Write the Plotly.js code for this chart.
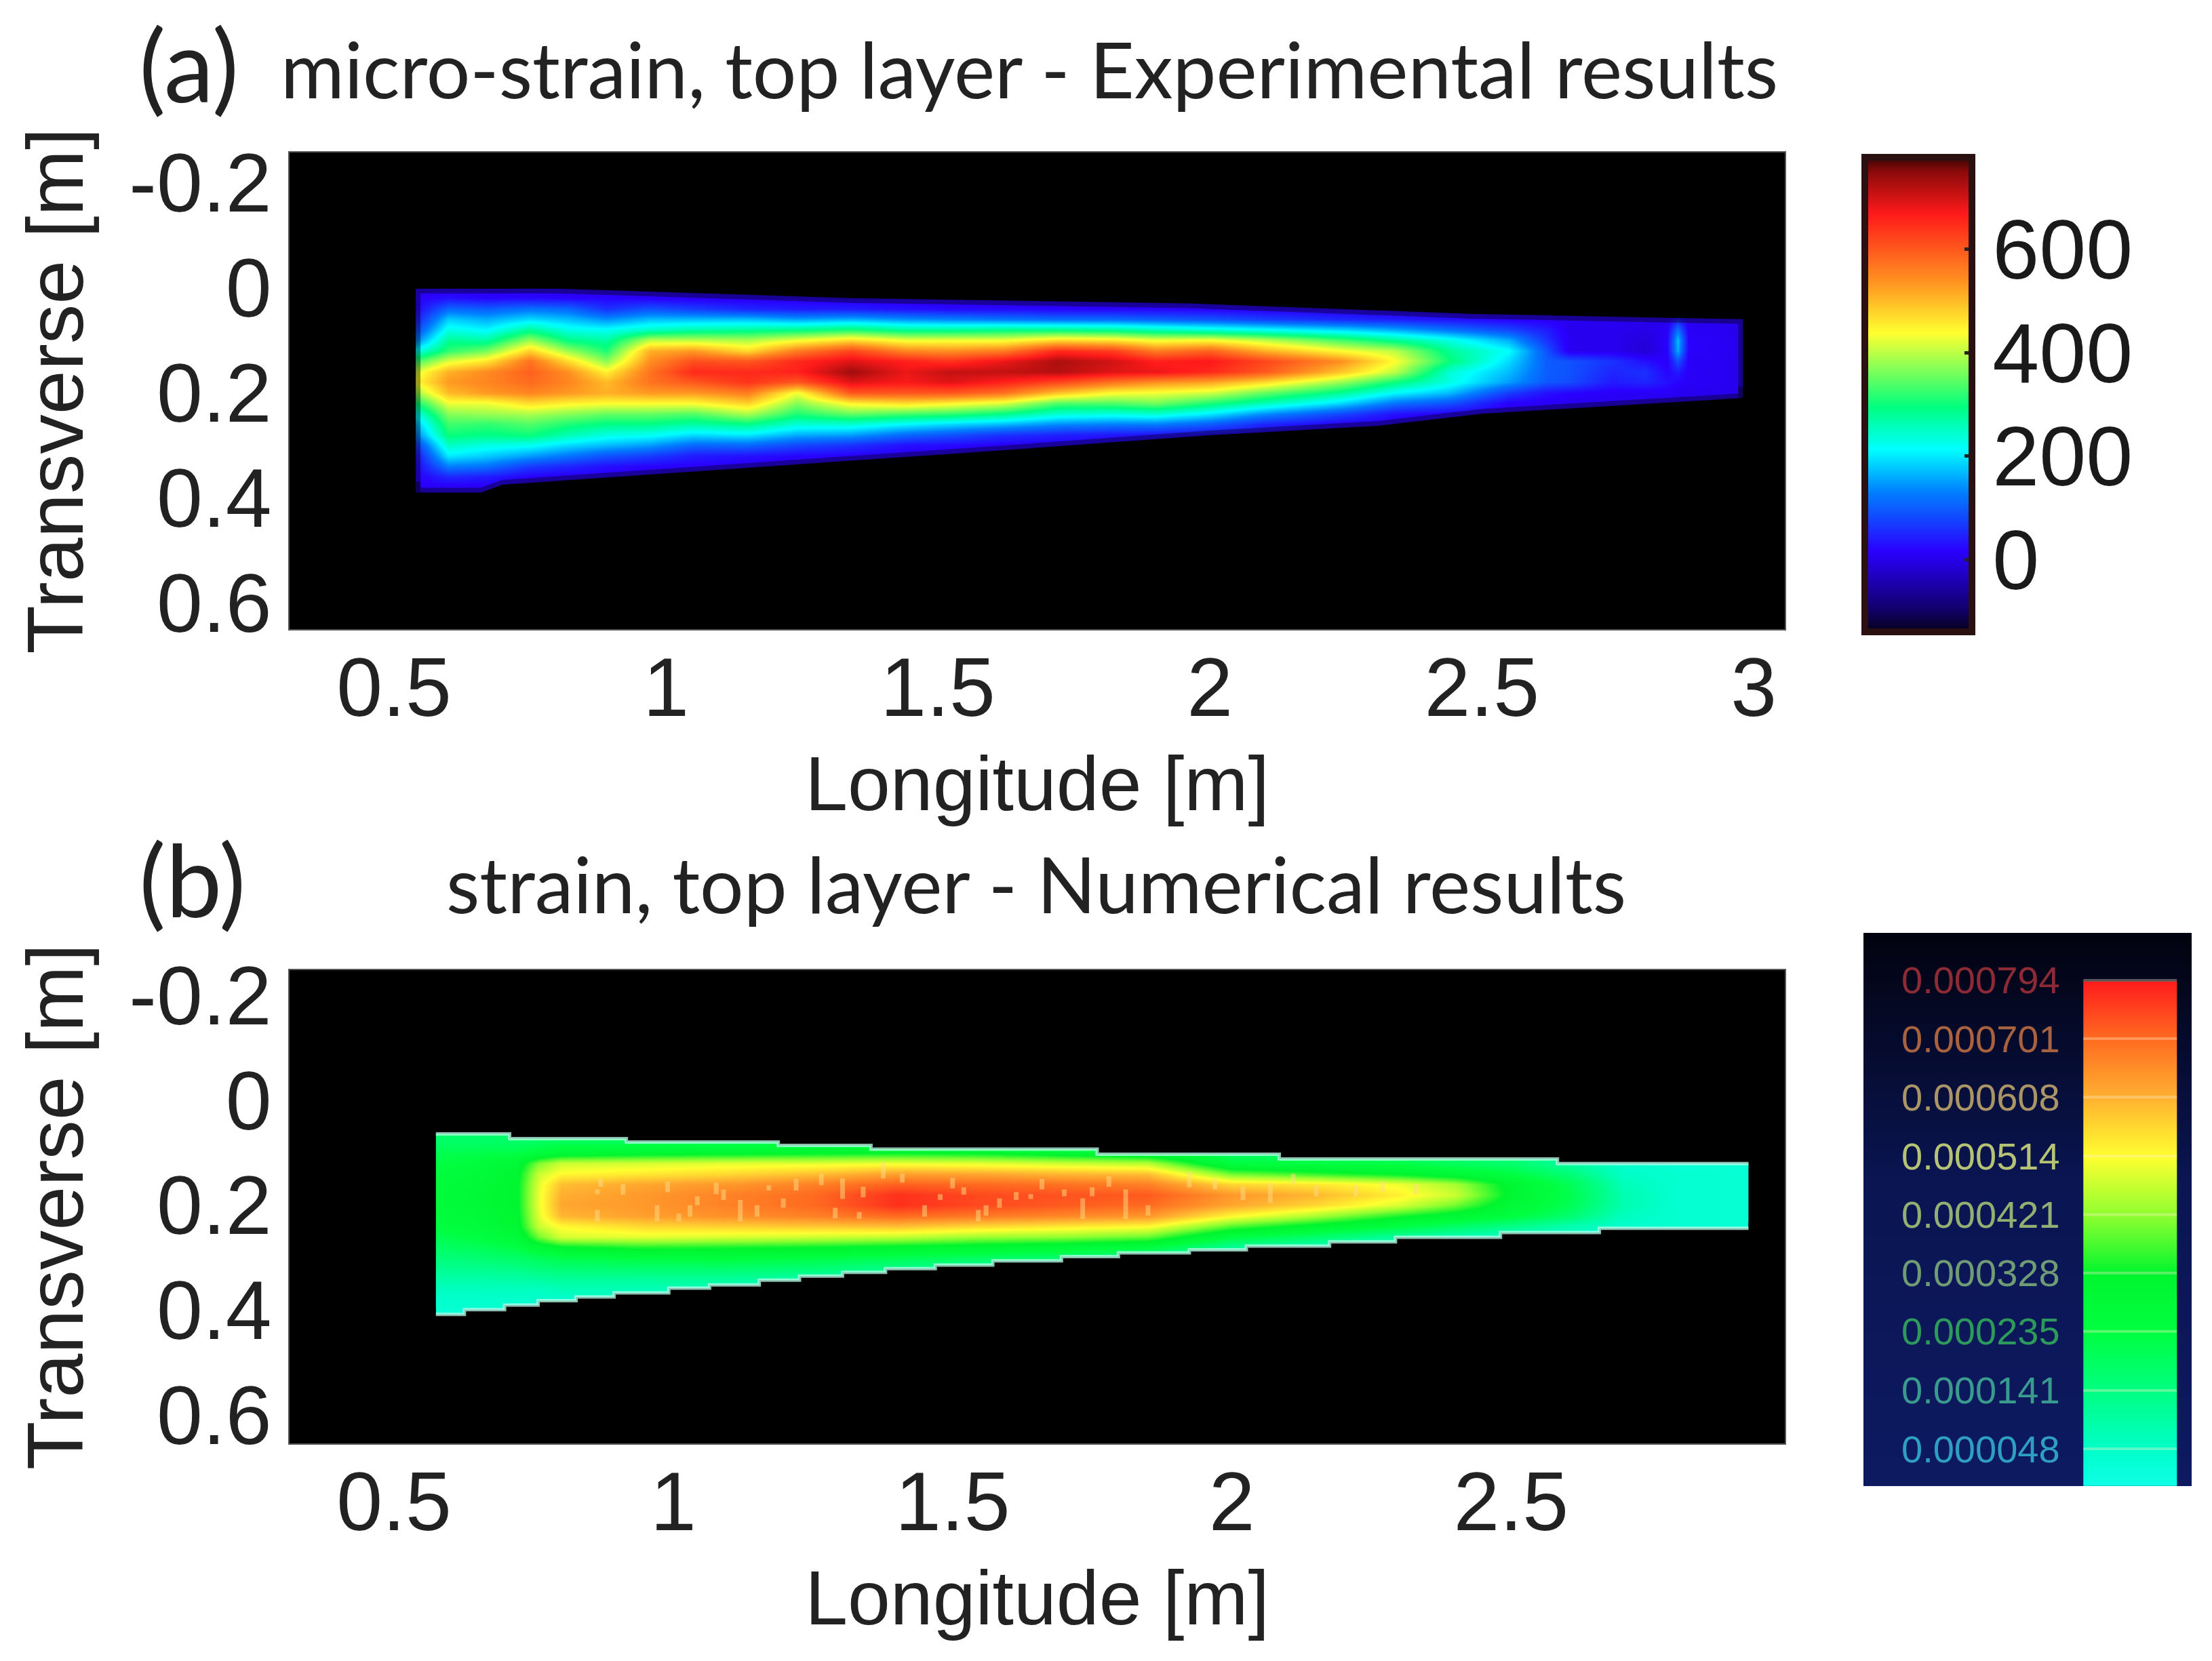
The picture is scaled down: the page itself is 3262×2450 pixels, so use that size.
<!DOCTYPE html>
<html>
<head>
<meta charset="utf-8">
<script src="https://cdn.plot.ly/plotly-3.0.1.min.js"></script>
<style>html,body{margin:0;padding:0;background:#fff}#chart{width:3262px;height:2450px}</style>
</head>
<body>
<div id="chart"></div>
<script>
// ---------- Panel (a): experimental micro-strain, typed per longitude column ----------
const transverseA = [0,.02,.04,.06,.08,.10,.12,.14,.16,.18,.20,.22,.24,.26,.28,.30,.32,.34,.36,.38,.40];
const longitudeA = [.54,.60,.67,.75,.82,.89,.97,1.05,1.15,1.24,1.34,1.44,1.52,1.62,1.72,1.82,1.90,2.00,2.10,2.24,2.34,2.44,2.55,2.62,2.66,2.74,2.80,2.84,2.86,2.88,2.97];
const strainColumnsA = [
[10,15,20,40,80,130,220,330,420,440,380,300,220,170,130,70,30,20,15,10,10],
[10,30,110,180,230,280,320,420,510,530,500,430,370,330,300,250,200,130,50,10,10],
[10,20,100,160,210,270,360,460,545,550,530,430,380,320,290,230,180,120,40,10,10],
[5,25,120,190,280,380,480,570,590,580,550,470,390,340,300,220,150,70,15,10,10],
[5,20,110,170,230,290,380,470,540,550,530,450,370,310,260,190,120,50,10,10,10],
[5,20,60,140,220,270,310,370,450,500,510,440,350,290,230,170,90,30,10,10,10],
[5,15,90,170,250,400,510,540,570,570,530,440,350,290,220,150,70,20,5,5,5],
[5,10,70,170,270,400,530,610,650,600,530,440,340,270,190,110,40,15,5,5,5],
[5,8,50,170,280,390,470,600,650,640,560,480,390,290,200,110,30,12,5,5,5],
[5,8,40,150,290,430,560,650,660,600,430,370,310,240,160,80,20,10,5,5,5],
[5,5,40,160,310,470,620,690,735,690,600,450,350,240,150,60,15,5,5,5,5],
[5,5,30,140,280,430,550,660,680,670,600,470,330,210,110,30,10,5,5,5,5],
[5,5,25,130,280,430,540,640,710,690,600,450,320,190,90,25,8,5,5,5,5],
[5,5,25,120,290,430,560,680,710,660,570,420,290,170,60,15,5,5,5,5,5],
[5,5,20,110,290,470,650,725,720,620,490,340,240,140,45,12,5,5,5,5,5],
[5,5,20,110,280,460,630,700,690,570,440,340,230,130,35,10,5,5,5,5,5],
[5,5,20,100,260,430,560,660,680,540,430,360,240,130,30,10,5,5,5,5,5],
[5,5,15,90,240,440,590,670,650,520,410,310,200,100,20,8,5,5,5,5,5],
[5,5,12,70,220,400,510,620,600,470,350,260,140,50,12,5,5,5,5,5,5],
[5,5,10,50,190,330,440,540,490,380,280,190,80,15,5,5,5,5,5,5,5],
[5,5,8,40,160,280,400,440,400,300,210,120,30,8,5,5,5,5,5,5,5],
[5,5,5,30,120,230,280,300,240,230,170,90,15,5,5,5,5,5,5,5,5],
[5,5,5,15,80,160,215,190,170,150,70,15,5,5,5,5,5,5,5,5,5],
[5,5,5,10,40,60,90,100,100,95,30,10,5,5,5,5,5,5,5,5,5],
[5,5,5,5,5,5,5,90,90,85,20,5,5,5,5,5,5,5,5,5,5],
[5,5,5,5,5,5,5,60,50,40,10,5,5,5,5,5,5,5,5,5,5],
[5,5,5,5,0,-10,-15,30,60,50,10,5,5,5,5,5,5,5,5,5,5],
[5,5,5,5,10,15,15,10,20,30,10,5,5,5,5,5,5,5,5,5,5],
[5,5,5,40,120,170,160,90,40,20,5,5,5,5,5,5,5,5,5,5,5],
[5,5,5,5,10,15,15,10,10,10,5,5,5,5,5,5,5,5,5,5,5],
[5,5,5,5,5,5,5,5,5,5,5,5,5,5,5,5,5,5,5,5,5]
];
const topEdgeLonA = [.54,.80,1.0,1.34,1.96,2.26,2.48,2.82,2.98];
const topEdgeTransA = [.002,.002,.01,.02,.03,.042,.05,.057,.06];
const bottomEdgeLonA = [.54,.66,.70,1.03,1.34,1.64,2.0,2.31,2.5,2.88,2.98];
const bottomEdgeTransA = [.39,.39,.375,.352,.333,.308,.281,.263,.24,.218,.21];

// ---------- Panel (b): numerical strain (x 1e-6), typed per longitude column ----------
const transverseB = [.06,.08,.10,.12,.14,.16,.18,.20,.22,.24,.26,.28,.30,.32,.34,.36,.38,.40,.42];
const longitudeB = [.57,.65,.72,.76,.80,.95,1.10,1.25,1.40,1.55,1.70,1.85,2.00,2.15,2.30,2.40,2.50,2.60,2.70,2.80,2.93];
const strainColumnsB = [
[170,180,210,230,250,260,260,260,250,240,210,180,150,120,90,60,40,25,20],
[170,180,220,250,270,280,285,285,275,260,235,200,165,125,90,60,40,25,20],
[170,180,225,290,310,320,320,320,315,305,270,230,180,135,95,60,40,25,20],
[170,190,250,410,470,490,500,500,490,470,400,280,200,150,100,60,40,25,20],
[170,200,280,470,520,590,610,620,600,520,480,320,220,160,110,70,40,25,20],
[170,200,300,480,540,620,640,640,630,560,490,350,240,170,110,70,40,25,20],
[170,200,310,490,560,640,670,670,650,570,480,340,250,170,110,60,40,25,20],
[170,210,320,490,590,670,700,700,670,580,470,330,230,160,90,50,40,25,20],
[170,210,330,500,630,710,770,770,700,590,460,310,210,130,70,40,40,25,20],
[170,180,320,490,620,700,740,740,680,560,430,290,190,100,50,40,40,25,20],
[170,170,290,470,600,690,730,720,660,540,420,270,170,70,40,40,40,25,20],
[170,170,260,450,590,670,720,700,640,520,390,240,120,50,40,40,40,25,20],
[170,170,170,240,400,560,640,620,520,380,230,110,50,40,40,40,40,25,20],
[170,170,170,230,360,540,600,560,440,300,170,60,40,40,40,40,40,25,20],
[170,170,170,220,320,500,530,480,340,230,100,40,40,40,40,40,40,25,20],
[170,170,170,190,280,440,470,400,290,180,70,40,40,40,40,40,40,25,20],
[170,170,170,170,230,300,310,280,240,130,50,40,40,40,40,40,40,25,20],
[100,100,100,100,160,210,220,210,170,80,40,40,40,40,40,40,40,25,20],
[40,40,40,40,50,70,80,80,60,40,30,30,30,30,30,30,30,25,20],
[20,20,20,20,30,30,30,30,30,30,20,20,20,20,20,20,20,20,20],
[25,25,25,25,25,25,25,25,25,25,25,25,25,25,25,25,25,25,25]
];
const topEdgeLonB = [.575,.707,.707,.916,.916,1.188,1.188,1.354,1.354,1.759,1.759,2.085,2.085,2.583,2.583,2.925];
const topEdgeTransB = [.064,.064,.073,.073,.0795,.0795,.086,.086,.093,.093,.103,.103,.112,.112,.1205,.1205];
const bottomEdgeLonB = [.575,.626,.626,.698,.698,.758,.758,.826,.826,.894,.894,.992,.992,1.065,1.065,1.154,1.154,1.226,1.226,1.303,1.303,1.38,1.38,1.469,1.469,1.572,1.572,1.695,1.695,1.797,1.797,1.924,1.924,2.026,2.026,2.175,2.175,2.293,2.293,2.481,2.481,2.658,2.658,2.925];
const bottomEdgeTransB = [.408,.408,.399,.399,.3905,.3905,.382,.382,.375,.375,.367,.367,.358,.358,.352,.352,.343,.343,.335,.335,.328,.328,.321,.321,.314,.314,.306,.306,.298,.298,.291,.291,.285,.285,.278,.278,.27,.27,.261,.261,.252,.252,.244,.244];
// light speckle streaks visible in the hot core of panel (b)
const streakLon = [.864,1.043,1.12,1.303,1.376,1.265,1.52,1.584,1.7,1.75,1.81,1.733,.971,.864,1.01,1.333,1.546,1.41,1.197,1.171,1.077,1.478,1.614,1.64,1.924,2.069,2.151,2.222,.87,.91,.99,1.03,1.09,1.15,1.22,1.29,1.34,1.45,1.5,1.56,1.66,1.78,1.85,1.97,2.02,2.11,2.27,2.33];
const streakFrom = [.170,.183,.190,.149,.118,.14,.166,.187,.17,.166,.17,.187,.2,.209,.216,.213,.209,.14,.187,.162,.157,.179,.175,.179,.136,.157,.162,.162,.15,.16,.155,.2,.17,.2,.15,.205,.165,.2,.148,.2,.15,.145,.2,.15,.165,.14,.155,.16];
const streakTo   = [.179,.2,.231,.188,.149,.162,.18,.205,.183,.183,.226,.226,.231,.231,.231,.226,.231,.157,.205,.172,.179,.19,.19,.188,.166,.196,.183,.183,.165,.18,.175,.222,.19,.222,.172,.225,.185,.222,.168,.22,.17,.165,.22,.17,.19,.16,.175,.18];

// ---------- Scales and labels ----------
const jetStops = [[0,'#05001a'],[.05,'#12006e'],[.17,'#2a00ff'],[.295,'#0080ff'],[.384,'#00ffff'],[.473,'#00ff80'],[.63,'#ffff30'],[.74,'#ff9020'],[.88,'#ff1a1a'],[.97,'#8b0a0a'],[1,'#3a0505']];
const scaleLevels = [-12,48,141,235,328,421,514,608,701,786,790];
const scaleLabels = ['0.000048','0.000141','0.000235','0.000328','0.000421','0.000514','0.000608','0.000701','0.000794'];
const scaleLabelValues = [48,141,235,328,421,514,608,701,794];
const scaleLabelColors = ['#2f9fc0','#3a9a8e','#2d9a5c','#6f9c74','#93b072','#b6c274','#ab9466','#a8623f','#8c2a36'];
const rampStops = [[0,'#10ffe8'],[.074,'#00ffc8'],[.19,'#00ff80'],[.306,'#00ff40'],[.42,'#00f52e'],[.537,'#90ff30'],[.652,'#ffff30'],[.769,'#ffb030'],[.885,'#ff6a20'],[1,'#ff1c1c']];
const boxLevels = [-12,400,870];
const lonTicksA = [.5,1,1.5,2,2.5,3], lonLabelsA = ['0.5','1','1.5','2','2.5','3'];
const lonTicksB = [.5,1,1.5,2,2.5], lonLabelsB = ['0.5','1','1.5','2','2.5'];
const transTicks = [-.2,0,.2,.4,.6], transLabels = ['-0.2','0','0.2','0.4','0.6'];
const colorbarTicks = [0,200,400,600];

// ---------- Figure ----------
const W = 3262, H = 2450;
const px = v => v / W, py = v => 1 - v / H;
const far = 50, lap = .012;

function maskTraces(topX, topY, botX, botY, xa, ya, line) {
  const n = topX.length - 1, m = botX.length - 1;
  const base = {type:'scatter', mode:'lines', fill:'toself', fillcolor:'#000', xaxis:xa, yaxis:ya,
    line: line, hoverinfo:'skip', showlegend:false};
  return [
    Object.assign({}, base, {
      x:[botX[0]].concat(topX, [topX[n], far, far, -far, -far, botX[0]]),
      y:[botY[0]].concat(topY, [botY[m], botY[m], -far, -far, botY[0], botY[0]])}),
    Object.assign({}, base, {
      x:botX.concat([botX[m], far, far, -far, -far, botX[0], botX[0]]),
      y:botY.concat([botY[m]-lap, botY[m]-lap, far, far, botY[0]-lap, botY[0]-lap, botY[0]])})
  ];
}

const softEdge = {color:'rgba(0,0,0,0.38)', width:14};
const noEdge = {width:0};

const streakX = [], streakY = [];
streakLon.forEach((l,i)=>{streakX.push(l,l,null); streakY.push(streakFrom[i],streakTo[i],null);});
const tickLineX = [], tickLineY = [];
scaleLabelValues.forEach(v=>{tickLineX.push(.67,.955,null); tickLineY.push(v,v,null);});

const traces = [
  {type:'heatmap', x:longitudeA, y:transverseA, z:strainColumnsA, transpose:true, zsmooth:'best',
   zmin:-139, zmax:777, colorscale:jetStops, xaxis:'x', yaxis:'y', hoverongaps:false,
   colorbar:{x:px(2750), xanchor:'left', y:py(582), yanchor:'middle', lenmode:'pixels', len:700,
     thicknessmode:'pixels', thickness:158, outlinecolor:'#2a1010', outlinewidth:10,
     tickmode:'array', tickvals:colorbarTicks, ticktext:colorbarTicks.map(String),
     ticks:'inside', ticklen:16, tickwidth:5, tickcolor:'#222',
     tickfont:{family:'Liberation Sans, Arial, sans-serif', size:124, color:'#1a1a1a'}, bgcolor:'rgba(0,0,0,0)', borderwidth:0, xpad:0, ypad:0}},
  ...maskTraces(topEdgeLonA, topEdgeTransA, bottomEdgeLonA, bottomEdgeTransA, 'x', 'y', softEdge),

  {type:'heatmap', x:longitudeB, y:transverseB, z:strainColumnsB, transpose:true, zsmooth:'best',
   zmin:-12, zmax:794, colorscale:rampStops, showscale:false, xaxis:'x2', yaxis:'y2'},
  {type:'scatter', mode:'lines', x:streakX, y:streakY, xaxis:'x2', yaxis:'y2', hoverinfo:'skip', showlegend:false,
   line:{color:'rgba(255,220,130,0.5)', width:7}},
  ...maskTraces(topEdgeLonB, topEdgeTransB, bottomEdgeLonB, bottomEdgeTransB, 'x2', 'y2', noEdge),
  {type:'scatter', mode:'lines', x:topEdgeLonB, y:topEdgeTransB, xaxis:'x2', yaxis:'y2', hoverinfo:'skip', showlegend:false,
   line:{color:'rgba(190,255,235,0.75)', width:5}},
  {type:'scatter', mode:'lines', x:bottomEdgeLonB, y:bottomEdgeTransB, xaxis:'x2', yaxis:'y2', hoverinfo:'skip', showlegend:false,
   line:{color:'rgba(190,255,235,0.75)', width:5}},

  // colour key of panel (b): dark box and ramp on an own pair of axes
  {type:'heatmap', x:[0,1], y:boxLevels, z:[boxLevels,boxLevels].map(c=>c), transpose:true, zsmooth:'best',
   zmin:-12, zmax:870, colorscale:[[0,'#0d1a60'],[.55,'#0a1552'],[1,'#02030f']], showscale:false, xaxis:'x3', yaxis:'y3', hoverinfo:'skip'},
  {type:'heatmap', x:[.67,.81,.955], y:scaleLevels, z:[scaleLevels,scaleLevels], transpose:true, zsmooth:'best',
   zmin:-12, zmax:794, colorscale:rampStops, showscale:false, xaxis:'x3', yaxis:'y3'},
  {type:'scatter', mode:'lines', x:tickLineX, y:tickLineY, xaxis:'x3', yaxis:'y3', hoverinfo:'skip', showlegend:false,
   line:{color:'rgba(255,235,200,0.35)', width:4}}
];

const tickFont = {family:'Liberation Sans, Arial, sans-serif', size:122, color:'#222'};
function lonAxis(dom, range, vals, text, anchor) {
  return {domain:dom, range:range, anchor:anchor, tickmode:'array', tickvals:vals, ticktext:text, tickfont:tickFont,
    ticks:'', ticklabelstandoff:-20, showgrid:false, zeroline:false,
    showline:true, mirror:true, linecolor:'#555', linewidth:2,
    title:{text:'Longitude [m]', font:{family:'Liberation Sans, Arial, sans-serif', size:113, color:'#222'}, standoff:34}};
}
function transAxis(dom, range, anchor) {
  return {domain:dom, range:range, anchor:anchor, tickmode:'array', tickvals:transTicks, ticktext:transLabels, tickfont:tickFont,
    ticks:'', showgrid:false, zeroline:false,
    showline:true, mirror:true, linecolor:'#555', linewidth:2,
    title:{text:'Transverse [m]', font:{family:'Liberation Sans, Arial, sans-serif', size:117, color:'#222'}, standoff:28}};
}
const headFont = {family:'Lato, Open Sans, sans-serif', size:114, color:'#222'};
const panelFont = {family:'Lato, Open Sans, sans-serif', size:148, color:'#222'};
const ann = (text,x,y,font,xanchor='left') => ({text, xref:'paper', yref:'paper', x:px(x), y:py(y), xanchor, yanchor:'middle', showarrow:false, font});

const annotations = [
  ann('(a)',203,94,panelFont),
  ann('(b)',203,1296,panelFont),
  ann('micro-strain, top layer - Experimental results',412,100,headFont),
  ann('strain, top layer - Numerical results',656,1302,headFont)
];
scaleLabels.forEach((t,i)=>annotations.push({text:t, xref:'paper', yref:'y3', x:px(3040), y:scaleLabelValues[i], xanchor:'right', yanchor:'middle', showarrow:false,
  font:{family:'Liberation Sans, Arial, sans-serif', size:56, color:scaleLabelColors[i]}}));

const layout = {
  width:W, height:H, margin:{l:0,r:0,t:0,b:0,autoexpand:false}, paper_bgcolor:'#fff', plot_bgcolor:'#000', showlegend:false,
  xaxis: lonAxis([px(427),px(2632)], [.308,3.057], lonTicksA, lonLabelsA, 'y'),
  yaxis: transAxis([py(928),py(225)], [.65,-.257], 'x'),
  xaxis2: lonAxis([px(427),px(2632)], [.313,2.99], lonTicksB, lonLabelsB, 'y2'),
  yaxis2: transAxis([py(2129),py(1431)], [.654,-.248], 'x2'),
  xaxis3: {domain:[px(2748),px(3232)], range:[0,1], visible:false, anchor:'y3'},
  yaxis3: {domain:[py(2192),py(1376)], range:[-11.3,869.5], visible:false, anchor:'x3'},
  annotations
};
Plotly.newPlot('chart', traces, layout, {displayModeBar:false, staticPlot:true});
</script>
</body>
</html>
